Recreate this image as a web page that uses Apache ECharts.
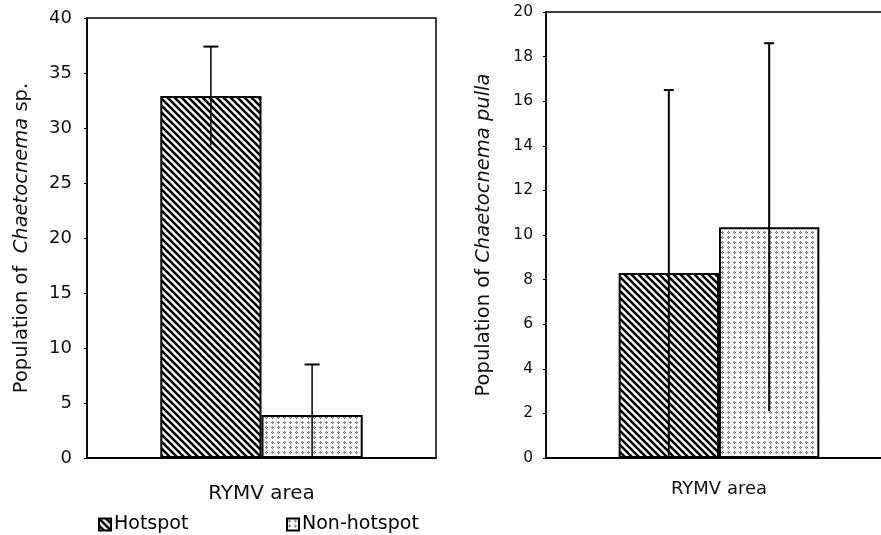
<!DOCTYPE html>
<html><head><meta charset="utf-8">
<script src="https://cdn.jsdelivr.net/npm/echarts@6/dist/echarts.min.js"></script>
<style>html,body{margin:0;padding:0;background:#fff}#c{width:881px;height:535px}</style>
</head><body><div id="c"></div>
<script>
// ---- data ----
const categories = [''];
const seriesNames = ['Hotspot', 'Non-hotspot'];
const sppMean = [32.9, 3.9];      // Chaetocnema sp.
const sppErr = [4.5, 4.6];
const pullaMean = [8.3, 10.35];   // Chaetocnema pulla
const pullaErr = [8.2, 8.25];
const leftTicks = [0, 5, 10, 15, 20, 25, 30, 35, 40];
const rightTicks = [0, 2, 4, 6, 8, 10, 12, 14, 16, 18, 20];

// ---- patterns ----
function hatch() {
  const n = 7;
  const c = document.createElement('canvas'); c.width = n; c.height = n;
  const g = c.getContext('2d'); g.fillStyle = '#fff'; g.fillRect(0, 0, n, n);
  g.strokeStyle = '#000'; g.lineWidth = 2.6;
  g.beginPath();
  [-n, 0, n].forEach(d => { g.moveTo(d - 1, -1); g.lineTo(d + n + 1, n + 1); });
  g.stroke();
  return c;
}
function stipple() {
  const c = document.createElement('canvas'); c.width = 6; c.height = 5;
  const g = c.getContext('2d'); g.fillStyle = '#fff'; g.fillRect(0, 0, 6, 5);
  g.fillStyle = '#707070';
  [[2,1],[1,2],[3,2],[2,3]].forEach(p => g.fillRect(p[0], p[1], 1, 1));
  g.fillStyle = '#b0b0b0';
  g.fillRect(2, 2, 1, 1);
  return c;
}
const patHot = { image: hatch(), repeat: 'repeat' };
const patNon = { image: stipple(), repeat: 'repeat' };
const fills = [patHot, patNon];
const BW = 0.29; // bar width fraction of category
const FONT = 'DejaVu Sans, Verdana, sans-serif';

function errRender(capW, lw) {
  return function (params, api) {
    const cat = api.value(0), lo = api.value(1), hi = api.value(2), s = api.value(3);
    const band = api.size([1, 0])[0];
    const bw = band * BW;
    const off = (s === 0 ? -0.5 : 0.5) * bw;
    const pHi = api.coord([cat, hi]), pLo = api.coord([cat, lo]);
    const x = pHi[0] + off;
    return {
      type: 'group', children: [
        { type: 'line', shape: { x1: x, y1: pHi[1], x2: x, y2: pLo[1] }, style: { stroke: '#000', lineWidth: lw } },
        { type: 'line', shape: { x1: x - capW / 2, y1: pHi[1], x2: x + capW / 2, y2: pHi[1] }, style: { stroke: '#000', lineWidth: 2 } }
      ]
    };
  };
}
function errData(mean, err) {
  return mean.map((m, i) => [0, Math.max(0, m - err[i]), m + err[i], i]);
}

const chart = echarts.init(document.getElementById('c'), null, { renderer: 'canvas' });
const yCommon = (ticks, fs, mg) => ({
  type: 'value', min: ticks[0], max: ticks[ticks.length - 1], interval: ticks[1] - ticks[0],
  axisLine: { show: true, lineStyle: { color: '#000', width: 1.5 } },
  axisTick: { show: true, length: 3, lineStyle: { color: '#000' } },
  splitLine: { show: false },
  axisLabel: { color: '#111', fontSize: fs, fontFamily: FONT, margin: mg },
  nameLocation: 'middle', nameRotate: 90
});
chart.setOption({
  animation: false,
  backgroundColor: '#fff',
  grid: [
    { left: 87, top: 18, width: 349, height: 440, show: true, borderColor: '#000', borderWidth: 1.5, backgroundColor: 'transparent', outerBoundsMode: 'none', containLabel: false },
    { left: 546, top: 12, width: 346, height: 446, show: true, borderColor: '#000', borderWidth: 1.5, backgroundColor: 'transparent', outerBoundsMode: 'none', containLabel: false }
  ],
  legend: [
    { data: [seriesNames[0]], left: 93, top: 510, icon: 'rect', itemWidth: 12, itemHeight: 12, itemGap: 4,
      textStyle: { color: '#000', fontSize: 19, fontFamily: FONT, padding: [0, 0, 0, -2] } },
    { data: [seriesNames[1]], left: 281, top: 510, icon: 'rect', itemWidth: 12, itemHeight: 12, itemGap: 4,
      textStyle: { color: '#000', fontSize: 19, fontFamily: FONT, padding: [0, 0, 0, -2] } }
  ],
  xAxis: [
    { type: 'category', gridIndex: 0, data: categories, axisLabel: { show: false }, axisTick: { show: false },
      axisLine: { lineStyle: { color: '#000', width: 2 } },
      name: 'RYMV area', nameLocation: 'middle', nameGap: 26, nameTextStyle: { color: '#111', fontSize: 20, fontFamily: FONT } },
    { type: 'category', gridIndex: 1, data: categories, axisLabel: { show: false }, axisTick: { show: false },
      axisLine: { lineStyle: { color: '#000', width: 2 } },
      name: 'RYMV area', nameLocation: 'middle', nameGap: 22, nameTextStyle: { color: '#111', fontSize: 18, fontFamily: FONT } }
  ],
  yAxis: [
    Object.assign(yCommon(leftTicks, 18, 15), {
      gridIndex: 0, nameGap: 55,
      name: '{a|Population of  }{i|Chaetocnema}{a| sp.}',
      nameTextStyle: { rich: { a: { fontSize: 19.5, fontFamily: FONT, color: '#111' }, i: { fontSize: 19.5, fontFamily: FONT, fontStyle: 'italic', color: '#111' } } }
    }),
    Object.assign(yCommon(rightTicks, 15.5, 13), {
      gridIndex: 1, nameGap: 52,
      name: '{a|Population of }{i|Chaetocnema pulla}',
      nameTextStyle: { rich: { a: { fontSize: 19.5, fontFamily: FONT, color: '#111' }, i: { fontSize: 19.5, fontFamily: FONT, fontStyle: 'italic', color: '#111' } } }
    })
  ],
  series: [
    ...seriesNames.map((n, i) => ({
      name: n, type: 'bar', xAxisIndex: 0, yAxisIndex: 0, barWidth: (BW * 100) + '%', barGap: '0%',
      data: [sppMean[i]], itemStyle: { color: fills[i], borderColor: '#000', borderWidth: 2 }
    })),
    ...seriesNames.map((n, i) => ({
      name: n, type: 'bar', xAxisIndex: 1, yAxisIndex: 1, barWidth: (BW * 100) + '%', barGap: '0%',
      data: [pullaMean[i]], itemStyle: { color: fills[i], borderColor: '#000', borderWidth: 2 }
    })),
    { type: 'custom', xAxisIndex: 0, yAxisIndex: 0, renderItem: errRender(15, 1.5), data: errData(sppMean, sppErr), z: 10 },
    { type: 'custom', xAxisIndex: 1, yAxisIndex: 1, renderItem: errRender(10, 2), data: errData(pullaMean, pullaErr), z: 10 }
  ]
});
</script></body></html>
